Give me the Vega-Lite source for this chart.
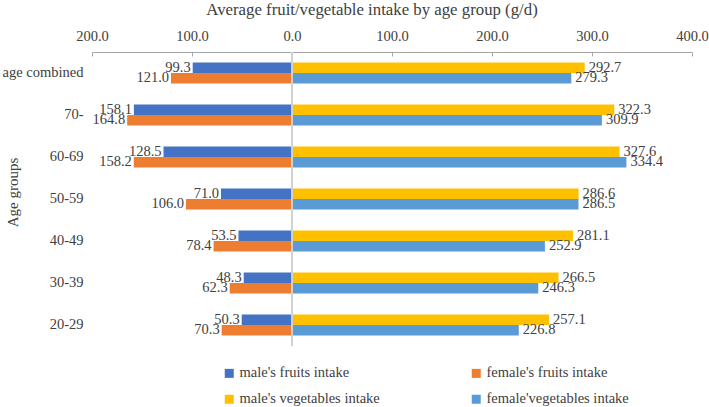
{
  "$schema": "https://vega.github.io/schema/vega-lite/v6.json",
  "width": 600,
  "height": 294,
  "autosize": {"type": "none"},
  "padding": {"left": 92, "top": 52, "right": 17, "bottom": 61},
  "background": "white",
  "config": {
    "view": {"stroke": null},
    "font": "Liberation Serif",
    "axis": {"labelFont": "Liberation Serif", "titleFont": "Liberation Serif"},
    "legend": {"labelFont": "Liberation Serif"},
    "text": {"font": "Liberation Serif"}
  },
  "data": {
    "values": [
      {"age": "age combined", "sex": "male", "food": "fruits", "series": "male's fruits intake", "value": -99.3},
      {"age": "age combined", "sex": "female", "food": "fruits", "series": "female's fruits intake", "value": -121.0},
      {"age": "age combined", "sex": "male", "food": "vegetables", "series": "male's vegetables intake", "value": 292.7},
      {"age": "age combined", "sex": "female", "food": "vegetables", "series": "female'vegetables intake", "value": 279.3},
      {"age": "70-", "sex": "male", "food": "fruits", "series": "male's fruits intake", "value": -158.1},
      {"age": "70-", "sex": "female", "food": "fruits", "series": "female's fruits intake", "value": -164.8},
      {"age": "70-", "sex": "male", "food": "vegetables", "series": "male's vegetables intake", "value": 322.3},
      {"age": "70-", "sex": "female", "food": "vegetables", "series": "female'vegetables intake", "value": 309.9},
      {"age": "60-69", "sex": "male", "food": "fruits", "series": "male's fruits intake", "value": -128.5},
      {"age": "60-69", "sex": "female", "food": "fruits", "series": "female's fruits intake", "value": -158.2},
      {"age": "60-69", "sex": "male", "food": "vegetables", "series": "male's vegetables intake", "value": 327.6},
      {"age": "60-69", "sex": "female", "food": "vegetables", "series": "female'vegetables intake", "value": 334.4},
      {"age": "50-59", "sex": "male", "food": "fruits", "series": "male's fruits intake", "value": -71.0},
      {"age": "50-59", "sex": "female", "food": "fruits", "series": "female's fruits intake", "value": -106.0},
      {"age": "50-59", "sex": "male", "food": "vegetables", "series": "male's vegetables intake", "value": 286.6},
      {"age": "50-59", "sex": "female", "food": "vegetables", "series": "female'vegetables intake", "value": 286.5},
      {"age": "40-49", "sex": "male", "food": "fruits", "series": "male's fruits intake", "value": -53.5},
      {"age": "40-49", "sex": "female", "food": "fruits", "series": "female's fruits intake", "value": -78.4},
      {"age": "40-49", "sex": "male", "food": "vegetables", "series": "male's vegetables intake", "value": 281.1},
      {"age": "40-49", "sex": "female", "food": "vegetables", "series": "female'vegetables intake", "value": 252.9},
      {"age": "30-39", "sex": "male", "food": "fruits", "series": "male's fruits intake", "value": -48.3},
      {"age": "30-39", "sex": "female", "food": "fruits", "series": "female's fruits intake", "value": -62.3},
      {"age": "30-39", "sex": "male", "food": "vegetables", "series": "male's vegetables intake", "value": 266.5},
      {"age": "30-39", "sex": "female", "food": "vegetables", "series": "female'vegetables intake", "value": 246.3},
      {"age": "20-29", "sex": "male", "food": "fruits", "series": "male's fruits intake", "value": -50.3},
      {"age": "20-29", "sex": "female", "food": "fruits", "series": "female's fruits intake", "value": -70.3},
      {"age": "20-29", "sex": "male", "food": "vegetables", "series": "male's vegetables intake", "value": 257.1},
      {"age": "20-29", "sex": "female", "food": "vegetables", "series": "female'vegetables intake", "value": 226.8}
    ]
  },
  "transform": [
    {"calculate": "format(abs(datum.value), '.1f')", "as": "label"}
  ],
  "encoding": {
    "y": {
      "field": "age",
      "type": "nominal",
      "sort": ["age combined", "70-", "60-69", "50-59", "40-49", "30-39", "20-29"],
      "scale": {"paddingInner": 0.5, "paddingOuter": 0.25},
      "axis": {
        "title": "Age groups",
        "titleFontSize": 15,
        "titleFontWeight": "normal",
        "titleColor": "#404040",
        "titleX": -80,
        "titleY": 140,
        "titleAngle": 270,
        "titleAlign": "center",
        "titleBaseline": "middle",
        "labelFontSize": 14.5,
        "labelColor": "#404040",
        "labelPadding": 9,
        "ticks": false,
        "domain": false
      }
    },
    "yOffset": {"field": "sex", "type": "nominal", "sort": ["male", "female"], "scale": {"paddingInner": 0, "paddingOuter": 0}}
  },
  "layer": [
    {
      "mark": {"type": "bar"},
      "encoding": {
        "x": {
          "field": "value",
          "type": "quantitative",
          "scale": {"domain": [-200, 400], "nice": false, "zero": false},
          "axis": {
            "orient": "top",
            "values": [-200, -100, 0, 100, 200, 300, 400],
            "labelExpr": "format(abs(datum.value), '.1f')",
            "labelFlush": false,
            "labelOverlap": false,
            "labelFontSize": 14.5,
            "labelColor": "#404040",
            "labelPadding": 13,
            "tickSize": -4,
            "tickColor": "#a6a6a6",
            "domainColor": "#a6a6a6",
            "grid": false,
            "title": "Average fruit/vegetable intake by age group (g/d)",
            "titleFontSize": 16.8,
            "titleFontWeight": "normal",
            "titleColor": "#404040",
            "titleX": 279.5,
            "titleY": -43,
            "titleAlign": "center",
            "titleBaseline": "middle"
          }
        },
        "color": {
          "field": "series",
          "type": "nominal",
          "scale": {
            "domain": ["male's fruits intake", "female's fruits intake", "male's vegetables intake", "female'vegetables intake"],
            "range": ["#4472C4", "#ED7D31", "#FFC000", "#5B9BD5"]
          },
          "legend": {
            "title": null,
            "orient": "none",
            "legendX": 130,
            "legendY": 314,
            "columns": 2,
            "direction": "horizontal",
            "columnPadding": 89,
            "rowPadding": 11,
            "symbolType": "square",
            "symbolSize": 81,
            "symbolStrokeWidth": 0,
            "labelFontSize": 14.5,
            "labelColor": "#404040",
            "labelOffset": 3,
            "padding": 0
          }
        }
      }
    },
    {
      "transform": [{"filter": "datum.value < 0"}],
      "mark": {"type": "text", "align": "right", "baseline": "middle", "dx": -2, "fontSize": 14.5, "color": "#404040", "font": "Liberation Serif"},
      "encoding": {
        "x": {"field": "value", "type": "quantitative"},
        "text": {"field": "label"}
      }
    },
    {
      "transform": [{"filter": "datum.value > 0"}],
      "mark": {"type": "text", "align": "left", "baseline": "middle", "dx": 4, "fontSize": 14.5, "color": "#404040", "font": "Liberation Serif"},
      "encoding": {
        "x": {"field": "value", "type": "quantitative"},
        "text": {"field": "label"}
      }
    },
    {
      "mark": {"type": "rule", "color": "#d0d0d0", "strokeWidth": 1.5},
      "encoding": {"x": {"datum": 0}, "y": {"value": 0}, "y2": {"value": 294}, "yOffset": null}
    }
  ]
}
